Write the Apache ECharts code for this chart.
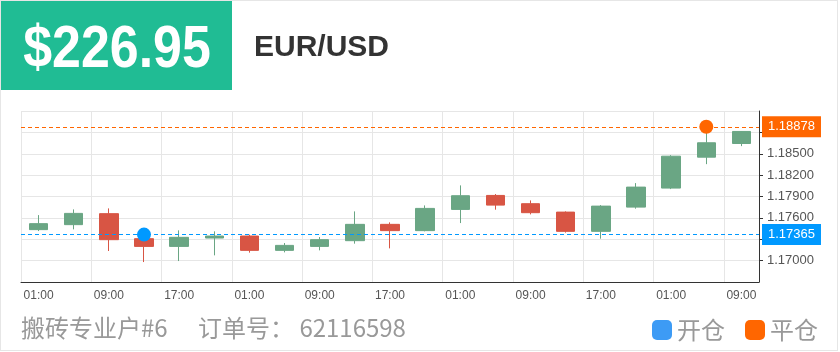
<!DOCTYPE html>
<html>
<head>
<meta charset="utf-8">
<title>EUR/USD</title>
<script src="https://cdn.jsdelivr.net/npm/echarts@6/dist/echarts.min.js"></script>
<style>
    body { margin: 0; background: #fff; }
    #main { width: 836px; height: 349px; border: 1px solid #e6e6e6; }
</style>
</head>
<body>
<div id="main"></div>
<script>
    // categories: one candle every 4 hours
    var timeLabels = ['01:00', '05:00', '09:00', '13:00', '17:00', '21:00', '01:00', '05:00', '09:00', '13:00', '17:00',
                      '21:00', '01:00', '05:00', '09:00', '13:00', '17:00', '21:00', '01:00', '05:00', '09:00'];
    var openValues  = [1.17435, 1.17505, 1.17659, 1.17308, 1.17200, 1.17317, 1.17345, 1.17144, 1.17200, 1.17280, 1.17509,
                       1.17421, 1.17719, 1.17915, 1.17799, 1.17681, 1.17411, 1.17751, 1.18018, 1.18452, 1.18644];
    var closeValues = [1.17519, 1.17663, 1.17294, 1.17200, 1.17327, 1.17345, 1.17144, 1.17214, 1.17294, 1.17509, 1.17421,
                       1.17733, 1.17911, 1.17779, 1.17673, 1.17411, 1.17765, 1.18032, 1.18466, 1.18654, 1.18813];
    var lowValues   = [1.17415, 1.17439, 1.17135, 1.16980, 1.16994, 1.17074, 1.17112, 1.17116, 1.17144, 1.17238, 1.17172,
                       1.17411, 1.17527, 1.17715, 1.17649, 1.17393, 1.17308, 1.17729, 1.18004, 1.18354, 1.18607];
    var highValues  = [1.17639, 1.17719, 1.17733, 1.17330, 1.17425, 1.17411, 1.17364, 1.17247, 1.17331, 1.17691, 1.17537,
                       1.17775, 1.18056, 1.17934, 1.17845, 1.17691, 1.17779, 1.18088, 1.18480, 1.18870, 1.18815];

    var openPoint  = [3, 1.17365];   // 开仓
    var closePoint = [19, 1.18878];  // 平仓

    var yMin = 1.167, yMax = 1.191, yStep = 0.003;

    var priceText = '$226.95';
    var pairText = 'EUR/USD';
    var userText = '搬砖专业户#6';
    var orderText = '订单号： 62116598';

    var candleData = [];
    for (var i = 0; i < timeLabels.length; i++) {
        candleData.push([openValues[i], closeValues[i], lowValues[i], highValues[i]]);
    }

    var upColor = '#6aa684';
    var downColor = '#d85544';
    var openColor = '#0099ff';
    var closeColor = '#ff6600';

    function priceLine(value, color) {
        return {
            yAxis: value,
            lineStyle: { color: color, type: [4, 3], width: 1 },
            label: {
                show: true,
                position: 'end',
                distance: 3,
                formatter: function (p) { return p.value.toFixed(5); },
                color: '#fff',
                fontSize: 13,
                fontFamily: 'Liberation Sans, sans-serif',
                backgroundColor: color,
                padding: [4, 6]
            }
        };
    }

    var chart = echarts.init(document.getElementById('main'));
    chart.setOption({
        animation: false,
        grid: { left: 20, right: 78, top: 110, bottom: 68 },
        graphic: [
            { type: 'rect', left: 0, top: 0, shape: { width: 231, height: 89 }, style: { fill: '#20bc94' } },
            {
                type: 'text', x: 116, y: 50, scaleX: 0.88,
                style: {
                    text: priceText, fill: '#fff', align: 'center', verticalAlign: 'middle',
                    font: 'bold 59px "Liberation Sans", sans-serif'
                }
            },
            {
                type: 'text', x: 253, y: 47,
                style: {
                    text: pairText, fill: '#333', align: 'left', verticalAlign: 'middle',
                    font: 'bold 30px "Liberation Sans", sans-serif'
                }
            },
            {
                type: 'text', x: 20, y: 327,
                style: {
                    text: userText, fill: '#999', align: 'left', verticalAlign: 'middle',
                    font: '24px "Noto Sans CJK SC", sans-serif'
                }
            },
            {
                type: 'text', x: 197, y: 327,
                style: {
                    text: orderText, fill: '#999', align: 'left', verticalAlign: 'middle',
                    font: '24px "Noto Sans CJK SC", sans-serif'
                }
            }
        ],
        legend: {
            right: 14,
            top: 312,
            itemWidth: 20,
            itemHeight: 20,
            itemGap: 20,
            icon: 'roundRect',
            selectedMode: false,
            textStyle: { fontSize: 24, color: '#999', fontFamily: 'Noto Sans CJK SC' },
            data: [
                { name: '开仓', itemStyle: { color: '#3d9bf5' } },
                { name: '平仓', itemStyle: { color: closeColor } }
            ]
        },
        xAxis: {
            type: 'category',
            data: timeLabels,
            boundaryGap: true,
            axisLine: { lineStyle: { color: '#333' } },
            axisTick: { interval: 1, alignWithLabel: true, length: 5, lineStyle: { color: '#333' } },
            axisLabel: { interval: 1, color: '#555', fontSize: 12, fontFamily: 'Liberation Sans, sans-serif' },
            splitLine: { show: true, interval: 1, lineStyle: { color: '#e6e6e6' } }
        },
        yAxis: {
            type: 'value',
            position: 'right',
            scale: true,
            min: yMin,
            max: yMax,
            interval: yStep,
            axisLine: { show: true, lineStyle: { color: '#333' } },
            axisTick: { show: true, length: 4, lineStyle: { color: '#333' } },
            axisLabel: {
                color: '#555', fontSize: 13, fontFamily: 'Liberation Sans, sans-serif',
                showMinLabel: false, showMaxLabel: false,
                formatter: function (v) { return v.toFixed(5); }
            },
            splitLine: { show: true, lineStyle: { color: '#e6e6e6' } }
        },
        series: [
            {
                name: 'EUR/USD',
                type: 'candlestick',
                data: candleData,
                barWidth: 19,
                itemStyle: {
                    color: upColor,
                    color0: downColor,
                    borderColor: upColor,
                    borderColor0: downColor
                },
                markLine: {
                    silent: true,
                    symbol: 'none',
                    precision: 5,
                    animation: false,
                    data: [priceLine(openPoint[1], openColor), priceLine(closePoint[1], closeColor)]
                }
            },
            {
                name: '开仓',
                type: 'scatter',
                symbolSize: 14,
                z: 5,
                itemStyle: { color: openColor, opacity: 1 },
                data: [openPoint]
            },
            {
                name: '平仓',
                type: 'scatter',
                symbolSize: 14,
                z: 5,
                itemStyle: { color: closeColor, opacity: 1 },
                data: [closePoint]
            }
        ]
    });
</script>
</body>
</html>
